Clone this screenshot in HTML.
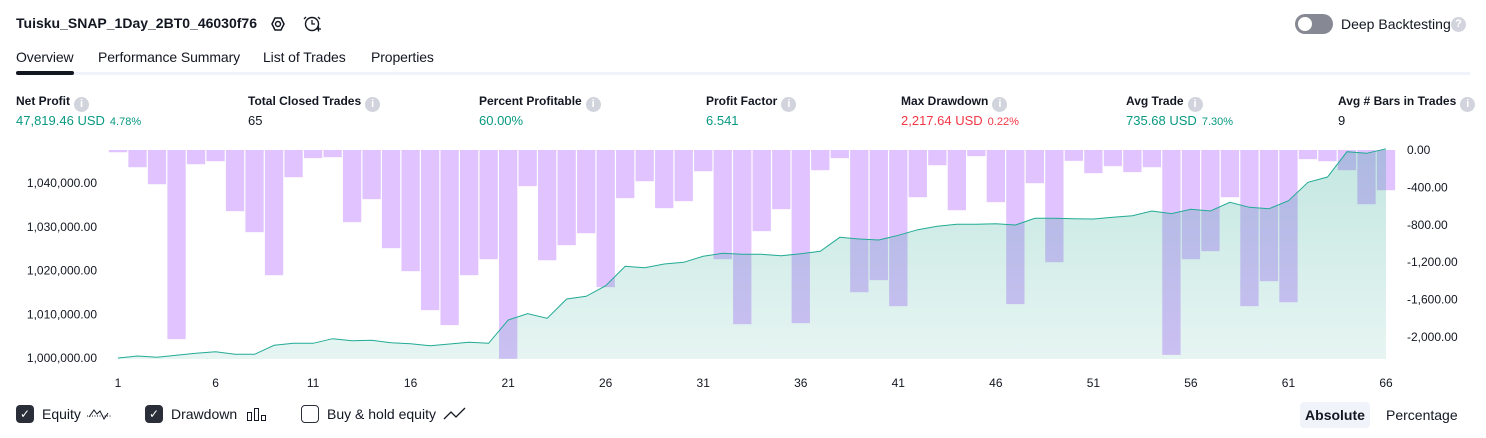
<!DOCTYPE html>
<html><head><meta charset="utf-8">
<style>
*{box-sizing:border-box;margin:0;padding:0}
body{width:1486px;height:438px;background:#fff;font-family:"Liberation Sans",sans-serif;color:#131722;position:relative;overflow:hidden}
.abs{position:absolute;white-space:nowrap}
.title{left:16px;top:15px;font-size:14px;font-weight:bold}
.tab{top:49px;font-size:14px;letter-spacing:-0.1px}
.lbl{top:94px;font-size:12px;font-weight:bold;color:#131722}
.info{display:inline-block;width:15px;height:15px;border-radius:50%;background:#d1d4dc;color:#fff;font-size:11px;text-align:center;line-height:15px;vertical-align:-2px;margin-left:4px;font-weight:bold}
.val{top:113px;font-size:13px}
.g{color:#089981}.r{color:#f23645}
.small{font-size:11px;margin-left:5px}
.cb{display:inline-block;width:18px;height:18px;border-radius:4px;margin-right:8px;flex:none}
.leg{top:405px;height:18px;font-size:14px;display:flex;align-items:center}
.leg svg{margin-left:5px}
</style></head><body>
<div class="abs title">Tuisku_SNAP_1Day_2BT0_46030f76</div>
<svg class="abs" style="left:268px;top:14px" width="20" height="20"><polygon points="4,10 7,4 13,4 16,10 13,16 7,16" fill="none" stroke="#131722" stroke-width="1.5"/><circle cx="10" cy="10" r="2.5" fill="none" stroke="#131722" stroke-width="1.4"/></svg>
<svg class="abs" style="left:302px;top:14px" width="20" height="20"><circle cx="10" cy="10" r="6.5" fill="none" stroke="#131722" stroke-width="1.4"/><path d="M10 6v4h3M4 3l-2 2M16 3l2 2M14 15h5M16.5 12.5v5" fill="none" stroke="#131722" stroke-width="1.3"/></svg>
<div class="abs" style="left:1295px;top:14px;width:38px;height:20px;border-radius:10px;background:#868993"><div style="position:absolute;left:3px;top:3px;width:14px;height:14px;border-radius:50%;background:#fff"></div></div>
<div class="abs" style="left:1341px;top:16px;font-size:14px">Deep Backtesting</div>
<div class="abs info" style="left:1451px;top:17px;margin:0">?</div>

<div class="abs tab" style="left:16px">Overview</div>
<div class="abs tab" style="left:98px">Performance Summary</div>
<div class="abs tab" style="left:263px">List of Trades</div>
<div class="abs tab" style="left:371px">Properties</div>
<div class="abs" style="left:16px;top:72px;width:1454px;height:3px;background:#f0f3fa"></div>
<div class="abs" style="left:16px;top:71px;width:58px;height:4px;border-radius:2px;background:#131722"></div>

<div class="abs lbl" style="left:16px">Net Profit<span class="info">i</span></div>
<div class="abs val g" style="left:16px">47,819.46 USD<span class="small">4.78%</span></div>
<div class="abs lbl" style="left:248px">Total Closed Trades<span class="info">i</span></div>
<div class="abs val" style="left:248px">65</div>
<div class="abs lbl" style="left:479px">Percent Profitable<span class="info">i</span></div>
<div class="abs val g" style="left:479px">60.00%</div>
<div class="abs lbl" style="left:706px">Profit Factor<span class="info">i</span></div>
<div class="abs val g" style="left:706px">6.541</div>
<div class="abs lbl" style="left:901px">Max Drawdown<span class="info">i</span></div>
<div class="abs val r" style="left:901px">2,217.64 USD<span class="small">0.22%</span></div>
<div class="abs lbl" style="left:1126px">Avg Trade<span class="info">i</span></div>
<div class="abs val g" style="left:1126px">735.68 USD<span class="small">7.30%</span></div>
<div class="abs lbl" style="left:1338px">Avg # Bars in Trades<span class="info">i</span></div>
<div class="abs val" style="left:1338px">9</div>

<svg id="chart" class="abs" style="left:0;top:0" width="1486" height="438">
<defs><linearGradient id="ag" x1="0" y1="0" x2="0" y2="1"><stop offset="0" stop-color="#089981" stop-opacity="0.24"/><stop offset="1" stop-color="#089981" stop-opacity="0.1"/></linearGradient></defs>
</svg>

<div class="abs leg" style="left:16px"><span class="cb" style="background:#2a2e39;color:#fff;font-size:12px;text-align:center;line-height:18px">✓</span>Equity<svg width="26" height="14"><path d="M1 9h24" stroke="#131722" stroke-dasharray="1 1.5"/><path d="M3 10l5-7 3 4 3-3 4 8 4-6" fill="none" stroke="#131722" stroke-width="1"/></svg></div>
<div class="abs leg" style="left:145px"><span class="cb" style="background:#2a2e39;color:#fff;font-size:12px;text-align:center;line-height:18px">✓</span>Drawdown<svg width="26" height="14" style="margin-left:9px"><rect x="1.5" y="5.5" width="4" height="8" fill="none" stroke="#131722"/><rect x="8.5" y="1.5" width="4" height="12" fill="none" stroke="#131722"/><rect x="15.5" y="8.5" width="4" height="5" fill="none" stroke="#131722"/></svg></div>
<div class="abs leg" style="left:301px"><span class="cb" style="border:1.5px solid #2a2e39"></span>Buy &amp; hold equity<svg width="24" height="14" style="margin-left:7px"><path d="M1 12l7-7 5 5 9-9" fill="none" stroke="#131722" stroke-width="1.3"/></svg></div>
<div class="abs" style="left:1300px;top:402px;width:70px;height:26px;background:#f0f3fa;border-radius:4px;font-size:14px;font-weight:bold;text-align:center;line-height:26px">Absolute</div>
<div class="abs" style="left:1386px;top:407px;font-size:14px">Percentage</div>

<script>
const trades=[];for(let i=1;i<=66;i++)trades.push(i);
const drawdown=[-8,-168,-350,-2007,-136,-104,-638,-863,-1323,-275,-71,-61,-756,-510,-1034,-1280,-1697,-1857,-1323,-1152,-2217,-371,-1163,-1002,-874,-1451,-499,-318,-606,-531,-211,-1152,-1847,-852,-617,-1836,-200,-71,-1505,-1376,-1654,-489,-147,-628,-50,-542,-1632,-339,-1184,-100,-232,-157,-221,-168,-2175,-1152,-1066,-489,-1654,-1387,-1612,-82,-104,-200,-564,-414];
const equity=[1000000,1000457,1000160,1000617,1001074,1001440,1000846,1000846,1002903,1003360,1003360,1004411,1003954,1004046,1003497,1003269,1002811,1003200,1003580,1003360,1008686,1010126,1009074,1013486,1014096,1016533,1020959,1020650,1021486,1021867,1023242,1023928,1023700,1023700,1023390,1023850,1024380,1027580,1027200,1026970,1028040,1029330,1030100,1030560,1030560,1030700,1030400,1031930,1031930,1031850,1031770,1032150,1032530,1033600,1033000,1034000,1033600,1035590,1034440,1034130,1035960,1040150,1041370,1047160,1046780,1047819];
const leftTicks=[1000000,1010000,1020000,1030000,1040000];
const rightTicks=[0,-400,-800,-1200,-1600,-2000];
const xTicks=[1,6,11,16,21,26,31,36,41,46,51,56,61,66];
const NS="http://www.w3.org/2000/svg";
const svg=document.getElementById('chart');
const X=i=>118+(i-1)*(1386-118)/65;
const YL=v=>358-(v-1000000)*175/40000;
const YR=v=>150-v*(187/2000);
function mk(t,a){const e=document.createElementNS(NS,t);for(const k in a)e.setAttribute(k,a[k]);svg.appendChild(e);return e;}
const bw=(1386-118)/65-1.2;
drawdown.forEach((d,i)=>{const x=X(trades[i]);const r=mk('rect',{x:x-bw/2,y:150,width:bw,height:Math.min(YR(d)+1.5,359)-150,fill:'#e1c4ff'});

});
let pts=equity.map((v,i)=>X(trades[i]).toFixed(1)+','+YL(v).toFixed(1));
const area=mk('polygon',{points:pts.join(' ')+' '+X(66)+',359 '+X(1)+',359',fill:'url(#ag)'});


const line=mk('polyline',{points:pts.join(' '),fill:'none',stroke:'#22ab94','stroke-width':1});


leftTicks.forEach(v=>{const t=mk('text',{x:97,y:YL(v)+4,'text-anchor':'end','font-size':12,fill:'#131722','font-family':'Liberation Sans'});t.textContent=v.toLocaleString('en-US')+'.00';

});
rightTicks.forEach(v=>{const t=mk('text',{x:1407,y:YR(v)+4,'font-size':12,fill:'#131722','font-family':'Liberation Sans'});t.textContent=(v<0?'-':'')+Math.abs(v).toLocaleString('en-US')+'.00';

});
xTicks.forEach(v=>{const t=mk('text',{x:X(v),y:387,'text-anchor':'middle','font-size':12,fill:'#131722','font-family':'Liberation Sans'});t.textContent=v;

});
</script>
</body></html>
